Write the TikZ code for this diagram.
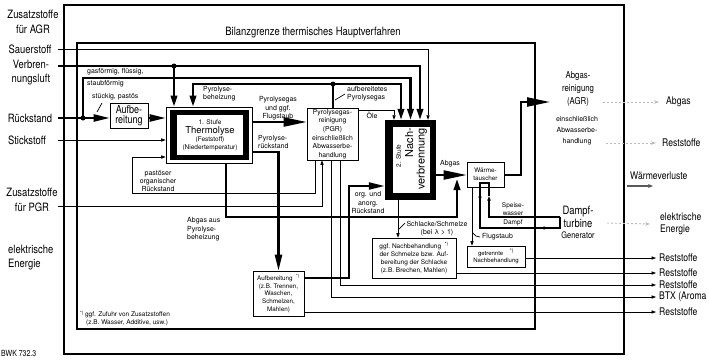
\documentclass[tikz,border=0pt]{standalone}
\usepackage{fontspec}
\setmainfont{TeX Gyre Heros}
\newfontfamily\cnd{TeX Gyre Heros}[FakeStretch=0.82]
\usetikzlibrary{arrows.meta}
\begin{document}
\begin{tikzpicture}[x=1pt,y=-1pt,
  bnd/.style={line width=2.8pt},
  strm/.style={line width=2.2pt},
  thn/.style={line width=0.7pt},
  med/.style={line width=1.1pt},
  bigtip/.style={-{Triangle[length=11pt,width=6.5pt]}},
  longtip/.style={-{Triangle[length=16pt,width=7pt]}},
  vlongtip/.style={-{Triangle[length=23pt,width=9pt]}},
  smltip/.style={-{Triangle[length=4.5pt,width=3.2pt]}},
  lbl/.style={font=\cnd\fontsize{11.5}{14.5}\selectfont, align=center, inner sep=0pt},
  rlbl/.style={font=\cnd\fontsize{10.5}{12}\selectfont, align=left, anchor=west, inner sep=0pt},
  tx/.style={font=\fontsize{7}{8.3}\selectfont, align=center, inner sep=0pt},
  txl/.style={tx, align=left, anchor=west},
  box/.style={draw, line width=0.7pt, fill=white, inner sep=0pt},
  dot/.style={circle, fill, inner sep=0pt, minimum size=5pt},
  faint/.style={draw=gray!55, line width=0.9pt, dash pattern=on 2pt off 2pt, -{Stealth[length=5pt,width=3.5pt]}},
]
\useasboundingbox (0,0) rectangle (709,360);

% boundaries
\draw[bnd] (64,5) rectangle (624,354);
\draw[bnd] (77,43) rectangle (535,329);
\node[lbl] (bilanz) at (313,33) {Bilanzgrenze thermisches Hauptverfahren};

% left labels
\node[lbl] (lzagr) at (33,22) {Zusatzstoffe\\für AGR};
\node[lbl] (lsauer) at (30,49) {Sauerstoff};
\node[lbl] (lverb) at (31,72.5) {Verbren-\\nungsluft};
\node[lbl] (lrueck) at (30,118) {Rückstand};
\node[lbl] (lstick) at (27,140) {Stickstoff};
\node[lbl] (lzpgr) at (32,200) {Zusatzstoffe\\für PGR};
\node[lbl, align=left, anchor=west] (lelek) at (8,257.5) {elektrische\\Energie};
\node[font=\cnd\fontsize{8.5}{10}\selectfont, anchor=west, inner sep=0pt] (bwk) at (1,353) {BWK 732.3};

\coordinate (cS) at (58,49);
\coordinate (cV) at (58,66);
\coordinate (cR) at (58,118);
\coordinate (cN) at (58,140);
\coordinate (cZ) at (58,206);

% boxes
\node[box, minimum width=38pt, minimum height=25pt, font=\cnd\fontsize{11}{10.5}\selectfont, align=center] (aufb1) at (129,115.5) {Aufbe-\\reitung};

\node[box, minimum width=86pt, minimum height=56pt] (thermo) at (209,135) {};
\fill (170,110) rectangle (249,160);
\fill[white] (177,115) rectangle (243,155);
\node[font=\fontsize{6.5}{7}\selectfont, inner sep=0pt] (t1) at (210,122) {1. Stufe};
\node[font=\fontsize{9.5}{10}\selectfont, inner sep=0pt] (t2) at (210,131) {Thermolyse};
\node[font=\fontsize{6.5}{7}\selectfont, inner sep=0pt] (t3) at (210,140) {(Feststoff)};
\node[font=\fontsize{6.5}{7}\selectfont, inner sep=0pt] (t4) at (210,148) {(Niedertemperatur)};

\node[box, minimum width=51pt, minimum height=52pt, font=\fontsize{6.8}{8.6}\selectfont, align=center] (pgr) at (332.5,134) {Pyrolysegas-\\reinigung\\(PGR)\\einschließlich\\Abwasserbe-\\handlung};

\node[fill, minimum width=51pt, minimum height=80pt, inner sep=0pt] (nach) at (410.5,160) {};
\fill[white] (393,127) rectangle (430,193);
\node[rotate=90, font=\fontsize{6.5}{7}\selectfont, inner sep=0pt] (n1) at (398.5,156) {2. Stufe};
\node[rotate=90, anchor=east, align=right, font=\fontsize{11}{11.5}\selectfont, inner sep=0pt] (n2) at (416,128) {Nach-\\verbrennung};

\node[box, minimum width=37pt, minimum height=25pt, font=\fontsize{6.3}{8}\selectfont, align=center] (wt) at (485.5,174.5) {Wärme-\\tauscher};

\node[box, minimum width=51pt, minimum height=45pt, font=\fontsize{6.3}{7.7}\selectfont, align=center] (aufb2) at (278.5,293.5) {Aufbereitung~~\textsuperscript{*)}\\(z.B. Trennen,\\Waschen,\\Schmelzen,\\Mahlen)};

\node[box, minimum width=84pt, minimum height=40pt, font=\fontsize{6.5}{8}\selectfont, align=center] (ggfn) at (414,258) {ggf.~Nachbehandlung~~\textsuperscript{*)}\\der Schmelze bzw. Auf-\\bereitung der Schlacke\\(z.B. Brechen, Mahlen)};

\node[box, minimum width=58pt, minimum height=21pt, font=\fontsize{6}{7}\selectfont, align=center] (getr) at (496,256.5) {getrennte~~~~\textsuperscript{*)}\\Nachbehandlung};

% right side labels
\node[font=\cnd\fontsize{9.5}{13}\selectfont, align=center, inner sep=0pt] (agr) at (578,89) {Abgas-\\reinigung\\(AGR)};
\node[font=\fontsize{7}{11}\selectfont, align=center, inner sep=0pt] (agr2) at (577,131) {einschließlich\\Abwasserbe-\\handlung};
\node[lbl, font=\cnd\fontsize{11.5}{13}\selectfont] (turb) at (578,216.5) {Dampf-\\turbine};
\node[font=\cnd\fontsize{9}{10}\selectfont, inner sep=0pt] (gen) at (578,235) {Generator};

\node[rlbl] (rabgas) at (666,102) {Abgas};
\node[rlbl] (rrest0) at (662,143) {Reststoffe};
\node[rlbl] (rwv) at (630,176) {Wärmeverluste};
\node[rlbl] (relek) at (660,224) {elektrische\\Energie};
\node[rlbl] (rr1) at (659,258) {Reststoffe};
\node[rlbl] (rr2) at (659,273) {Reststoffe};
\node[rlbl] (rr3) at (659,285) {Reststoffe};
\node[rlbl] (rbtx) at (659,297) {BTX (Aroma};
\node[rlbl] (rr4) at (659,312) {Reststoffe};

% junction dots
\node[dot] (d1) at (83,118) {};
\node[dot] (d2) at (174,66) {};
\node[dot] (d3) at (333,84) {};

% main streams
\draw[strm, longtip] (cR) -- (aufb1.west |- cR);
\draw[strm, longtip] (aufb1.east |- cR) -- (thermo.west |- cR);
\draw[strm, bigtip] (d1.center) -- (d1 |- 0,78) -| (nach.north);
\draw[strm, bigtip] (cV) -| ([xshift=9.5pt]nach.north);
\draw[strm, bigtip] (d2.center) -- (d2 |- thermo.north);
\draw[thn, smltip] (cS) -| ([xshift=17.5pt]nach.north);
\draw[strm, bigtip] (d3.center) -| ([xshift=-16pt]thermo.north);
\draw[strm, bigtip] (d3.center) -| ([xshift=-9.5pt]nach.north);
\draw[med] (pgr.north -| d3) -- (d3.center);
\draw[thn, smltip] (cN) -- (thermo.west |- cN);

\draw[strm, vlongtip] (thermo.east |- 0,122) -- (pgr.west |- 0,122);
\draw[strm, longtip] (thermo.east |- 0,152) -| (aufb2.north);
\coordinate (jab) at (457,179);
\draw[strm, bigtip] ([xshift=17pt]thermo.south) |- (jab |- 0,217) -- (jab);
\draw[thn, smltip] (pgr.south -| 315,0) |- (132,193) |- (thermo.west |- 0,157);
\draw[thn, smltip] (cZ) -| (pgr.south -| 322,0);
\draw[thn, smltip] (pgr.east |- 0,110) -| ([xshift=-16.5pt]nach.north);
\draw[strm, longtip] (aufb2.east |- 0,278) -| (349,186) -- (nach.west |- 0,186);
\draw[thn, smltip] (nach.south -| 398,0) -- (ggfn.north -| 398,0);
\draw[strm, vlongtip] (nach.east |- 0,175) -- (wt.west |- 0,175);
\coordinate (agrin) at (550,102);
\draw[strm, vlongtip] (wt.east |- 0,175) -| (521,102) -- (agrin);
\draw[thn, smltip] (wt.south -| 472,0) -- (getr.north -| 472,0);

% steam loop
\coordinate (lp1) at (560,217);
\coordinate (lp2) at (560,228);
\draw[med] (489,196) -- (489,183) -- (480,183) -- (480,228) -- (lp2) -- (lp1);
\draw[med, smltip] (lp1) -- (489,217) -- (489,196);
\draw[med, smltip] (480,190) -- (480,201);
\draw[med, smltip] (535,228) -- (548,228);

% outputs to the right
\draw[thn, smltip] (getr.east |- rr1) -- ([xshift=-3pt]rr1.west);
\draw[thn, smltip] (ggfn.east |- rr2) -- ([xshift=-3pt]rr2.west);
\draw[thn, smltip] (pgr.south -| 340,0) |- ([xshift=-3pt]rr3.west);
\draw[thn, smltip] (pgr.south -| 331,0) |- ([xshift=-3pt]rbtx.west);
\draw[thn, smltip] (aufb2.east |- rr4) -- ([xshift=-3pt]rr4.west);

\coordinate (fa1) at (603,102);
\coordinate (fa2) at (606,143);
\coordinate (fa3) at (607,223);
\coordinate (fa4) at (627,186);
\draw[faint] (fa1) -- ([xshift=-7pt]rabgas.west);
\draw[faint] (fa2) -- ([xshift=-6pt]rrest0.west);
\draw[faint] (fa3) -- ([xshift=-10pt]relek.west);
\draw[draw=gray!70!black, line width=1.3pt, -{Stealth[length=5pt,width=4pt]}] (fa4) -- (653,186);

% small labels
\node[txl] at (87,72) {gasförmig, flüssig,};
\node[txl] at (87,84) {staubförmig};
\node[txl] at (92,97) {stückig, pastös};
\draw[thn] (97,112) -- (102,103);
\node[txl] at (203,94) {Pyrolyse-\\beheizung};
\node[tx] at (278,108.5) {Pyrolysegas\\und ggf.\\Flugstaub};
\node[txl] at (258,142) {Pyrolyse-\\rückstand};
\node[txl] at (347,93.5) {aufbereitetes\\Pyrolysegas};
\draw[thn] (335,100) -- (345,94);
\node[tx] at (372,115) {Öle};
\node[tx] at (158,181) {pastöser\\organischer\\Rückstand};
\node[txl] at (187,229.5) {Abgas aus\\Pyrolyse-\\beheizung};
\node[tx] at (368,202.5) {org. und\\anorg.\\Rückstand};
\node[tx] at (450,164) {Abgas};
\node[tx] at (437,228.5) {Schlacke/Schmelze\\(bei λ > 1)};
\draw[thn] (399,229) -- (405,223);
\node[txl] at (482,237) {Flugstaub};
\draw[thn] (473,233) to[out=-60,in=180] (480,237);
\node[tx, font=\fontsize{6.5}{8}\selectfont] at (513,209) {Speise-\\wasser};
\node[tx, font=\fontsize{6.5}{8}\selectfont] at (513,223) {Dampf};

\node[font=\fontsize{6.5}{7.5}\selectfont, align=left, anchor=west, inner sep=0pt] (fn) at (80,318.5) {\textsuperscript{*)}\,ggf. Zufuhr von Zusatzstoffen\\\hspace{6pt}(z.B. Wasser, Additive, usw.)};
\end{tikzpicture}
\end{document}
